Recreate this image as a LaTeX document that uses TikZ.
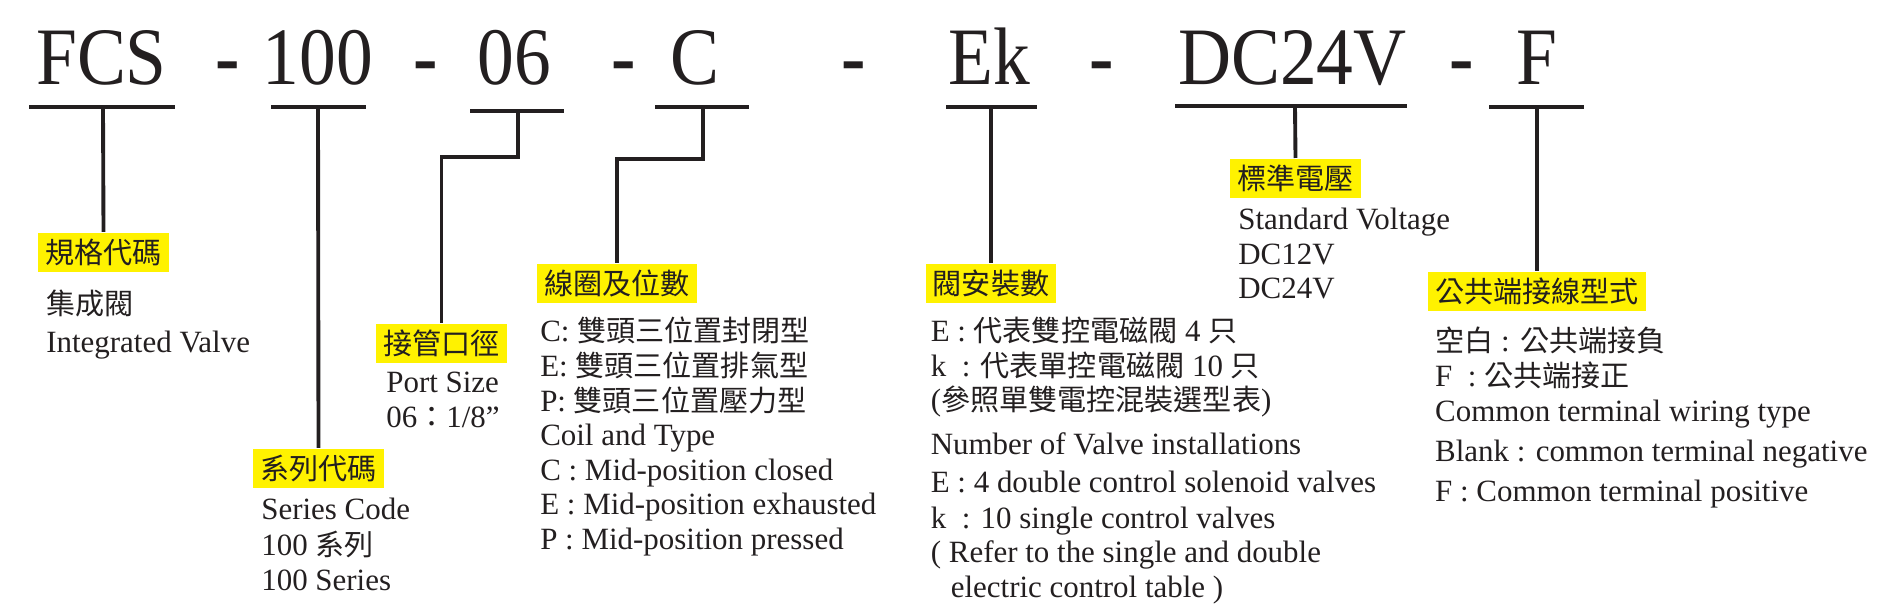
\documentclass[tikz,border=0pt]{standalone}
\usepackage{fontspec}
\setmainfont{Liberation Serif}
\newfontfamily\cjk{Noto Sans CJK TC}[Scale=0.94]
\newfontfamily\codefont{Liberation Serif}[FakeStretch=0.9]
\usepackage{tikz}
\usetikzlibrary{positioning}
\definecolor{ink}{HTML}{231F20}
\definecolor{tagyellow}{HTML}{FFF200}

\begin{document}
\begin{tikzpicture}[
    x=0.01cm, y=-0.01cm,
    every node/.style={text=ink},
    code/.style={anchor=base, inner sep=0pt, font=\fontsize{23.2}{26}\codefont},
    hyph/.style={code, font=\fontsize{23.2}{26}\codefont\bfseries},
    tag/.style={fill=tagyellow, anchor=north, inner xsep=0.07cm, inner ysep=0pt,
      minimum height=0.39cm, font=\fontsize{8.8}{9.85}\selectfont\cjk},
    desc/.style={anchor=north west, inner sep=0pt, align=left,
      font=\fontsize{8.8}{9.85}\selectfont},
    uline/.style={line width=1.3pt, draw=ink},
    link/.style={line width=1.1pt, draw=ink}
  ]
    \useasboundingbox (0,0) rectangle (1881,613);
    % model code
    \node[code] (fcs) at (101.5,85) {FCS};
    \node[hyph] (h1) at (228,85) {-};
    \node[code] (ser) at (318,85) {100};
    \node[hyph] (h2) at (425.5,85) {-};
    \node[code] (size) at (514.5,85) {06};
    \node[hyph] (h3) at (624,85) {-};
    \node[code] (coilc) at (695,85) {C};
    \node[hyph] (h4) at (854,85) {-};
    \node[code] (numc) at (989.5,85) {Ek};
    \node[hyph] (h5) at (1102,85) {-};
    \node[code] (voltc) at (1292.5,85) {DC24V};
    \node[hyph] (h6) at (1462,85) {-};
    \node[code] (comc) at (1537,85) {F};
    % underlines
    \coordinate (u-fcs) at (103,107);
    \coordinate (u-ser) at (318,107);
    \coordinate (u-size) at (518,111);
    \coordinate (u-coil) at (703,107);
    \coordinate (u-num) at (991,107);
    \coordinate (u-volt) at (1295,106);
    \coordinate (u-com) at (1537,107);
    \draw[uline] (29,107) -- (u-fcs) -- (175,107);
    \draw[uline] (271,107) -- (u-ser) -- (366,107);
    \draw[uline] (470,111) -- (u-size) -- (564,111);
    \draw[uline] (655,107) -- (u-coil) -- (749,107);
    \draw[uline] (946,107) -- (u-num) -- (1037,107);
    \draw[uline] (1175,106) -- (u-volt) -- (1407,106);
    \draw[uline] (1489,107) -- (u-com) -- (1584,107);
    % tags
    \node[tag] (spec) at (103.5,232) {規格代碼};
    \node[tag] (series) at (318.5,448) {系列代碼};
    \node[tag] (port) at (441.5,323) {接管口徑};
    \node[tag] (coil) at (617,263) {線圈及位數};
    \node[tag] (num) at (991,263) {閥安裝數};
    \node[tag] (volt) at (1295.5,158) {標準電壓};
    \node[tag] (com) at (1537,271) {公共端接線型式};
    % descriptions
    \node[desc, below right=0.17cm and 0.08cm of spec.south west] (spec-t)
      {{\cjk 集成閥}\\[1pt] Integrated Valve};
    \node[desc, below right=0.09cm and 0.08cm of series.south west] (series-t)
      {Series Code\\[0.4pt] 100 {\cjk 系列}\\ 100 Series};
    \node[desc, below right=0.08cm and 0.1cm of port.south west] (port-t)
      {Port Size\\ 06{\cjk ：}1/8”};
    \node[desc, below right=0.13cm and 0.03cm of coil.south west] (coil-t)
      {C: {\cjk 雙頭三位置封閉型}\\ E: {\cjk 雙頭三位置排氣型}\\ P: {\cjk 雙頭三位置壓力型}\\
       Coil and Type\\ C : Mid-position closed\\ E : Mid-position exhausted\\ P : Mid-position pressed};
    \node[desc, below right=0.13cm and 0.05cm of num.south west] (num-t)
      {E : {\cjk 代表雙控電磁閥} 4 {\cjk 只}\\ k\ \ : {\cjk 代表單控電磁閥} 10 {\cjk 只}\\
       ({\cjk 參照單雙電控混裝選型表})\\[2.4pt] Number of Valve installations\\[1pt]
       E : 4 double control solenoid valves\\[0.4pt] k\ \ : 10 single control valves\\
       ( Refer to the single and double\\ \hspace*{0.2cm}electric control table )};
    \node[desc, below right=0.09cm and 0.08cm of volt.south west] (volt-t)
      {Standard Voltage\\ DC12V\\ DC24V};
    \node[desc, below right=0.15cm and 0.07cm of com.south west] (com-t)
      {{\cjk 空白} : {\cjk 公共端接負}\\ F\ \ : {\cjk 公共端接正}\\ Common terminal wiring type\\[1.8pt]
       Blank : common terminal negative\\[1.25pt] F : Common terminal positive};
    % connectors
    \draw[link] (u-fcs) -- (spec.north);
    \draw[link] (u-ser) -- (series.north);
    \draw[link] (u-size) -- ++(0,46) -| (port.north);
    \draw[link] (u-coil) -- ++(0,52) -| (coil.north);
    \draw[link] (u-num) -- (num.north);
    \draw[link] (u-volt) -- (volt.north);
    \draw[link] (u-com) -- (com.north);
  \end{tikzpicture}
\end{document}
